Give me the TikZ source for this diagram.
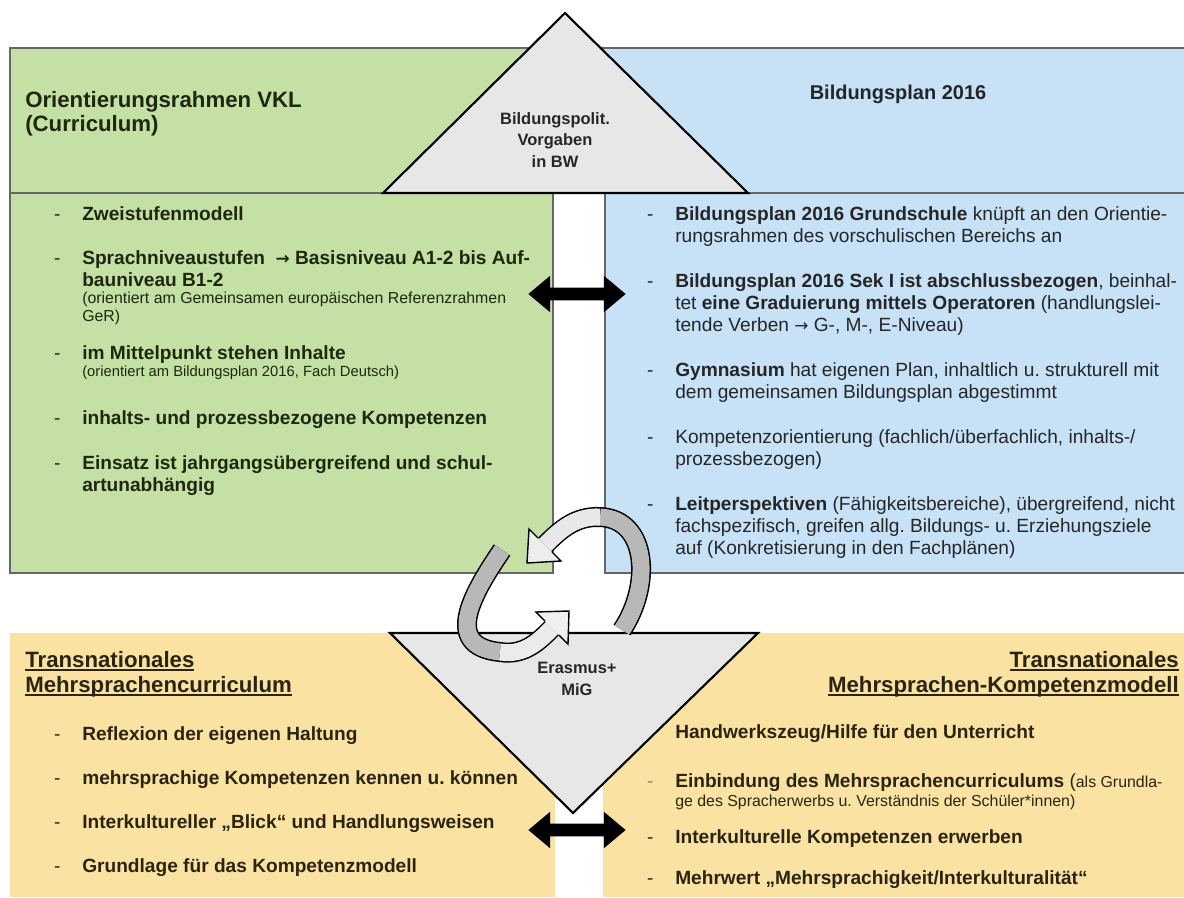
\documentclass[tikz,border=0pt]{standalone}
\usepackage{fontspec}
\setmainfont{Liberation Sans}
\newfontfamily\arrowfont{DejaVu Sans}
\usetikzlibrary{positioning,shapes.arrows}

\definecolor{vklgreen}{HTML}{C5E0A5}
\definecolor{planblue}{HTML}{C7E1F7}
\definecolor{migyellow}{HTML}{FAE3A2}
\definecolor{trigray}{HTML}{E7E7E7}
\definecolor{inkgreen}{HTML}{1C2810}
\definecolor{inkgray}{HTML}{262626}
\definecolor{inkbrown}{HTML}{2A2412}

\newcommand\txtbody{\fontsize{13.6pt}{15.6pt}\selectfont}
\newcommand\txtnote{\fontsize{11.3pt}{12.8pt}\selectfont}
\newcommand\txttitle{\fontsize{15.8pt}{17.5pt}\selectfont\bfseries}
\newcommand\txttri{\fontsize{11.7pt}{15.5pt}\selectfont\bfseries}
% dash in front of a list line
\newcommand\bul{\llap{-\hspace{15.5pt}}}
% arrow sign inside a text line
\newcommand\toarrow{{\arrowfont\fontsize{12pt}{12pt}\selectfont →}}
% heavy underline for the yellow titles
\newcommand\thickul[1]{\setbox0\hbox{#1}\rlap{\rule[-2.6pt]{\wd0}{1.3pt}}\box0}

\tikzset{
  boxline/.style={draw=black!60, line width=1pt},
  tribox/.style={fill=trigray, draw=black, line width=1.5pt},
  itemtext/.style={anchor=north west, align=left, inner sep=0pt, font=\txtbody},
  notetext/.style={anchor=north west, align=left, inner sep=0pt, font=\txtnote},
  titletext/.style={anchor=north west, align=left, inner sep=0pt, font=\txttitle},
  tritext/.style={align=center, inner sep=0pt, font=\txttri, text=inkgray},
  linkarrow/.style={double arrow, fill=black, inner sep=0.15cm, minimum height=2.43cm,
    double arrow head extend=0.3cm, double arrow tip angle=80},
  bandline/.style={line width=0.5cm},
  bandfill/.style={line width=0.425cm},
}

\begin{document}
\frenchspacing
\begin{tikzpicture}[x=0.025cm, y=-0.025cm]
\useasboundingbox (0,0) rectangle (1184,897);

% boxes
\fill[vklgreen] (10,48) rectangle (560,193);
\draw[boxline] (560,48) -- (10,48) -- (10,193) -- (560,193);
\fill[planblue] (570,48) rectangle (1190,193);
\draw[boxline] (1190,48) -- (570,48) -- (570,193) -- (1190,193);
\fill[vklgreen] (10,193) rectangle (553,573);
\draw[boxline] (10,193) rectangle (553,573);
\fill[planblue] (605,193) rectangle (1190,573);
\draw[boxline] (1190,193) -- (605,193) -- (605,573) -- (1190,573);
\fill[migyellow] (10,633) rectangle (555,897);
\fill[migyellow] (603,633) rectangle (1184,897);

% triangles
\draw[tribox] (565,13) -- (748,193) -- (383,193) -- cycle;
\draw[tribox] (390,633) -- (758,633) -- (573,813) -- cycle;
\node[tritext] (bw) at (555,140) {Bildungspolit.\\Vorgaben\\in BW};
\node[tritext] (mig) at (577,679) {Erasmus+\\MiG};

% headers
\node[titletext, text=inkgreen] (vkl) at (25,91) {Orientierungsrahmen VKL\\(Curriculum)};
\node[font=\fontsize{14.2pt}{17pt}\selectfont\bfseries, text=inkgray, inner sep=0pt] (bp) at (898,94) {Bildungsplan 2016};

% green items
\node[itemtext, text=inkgreen] (g1) at (82,206) {\bul\textbf{Zweistufenmodell}};
\node[itemtext, text=inkgreen] (g2) at (82,250) {\bul\textbf{Sprachniveaustufen\ \ {\bfseries\toarrow} Basisniveau A1-2 bis Auf-}\\\textbf{bauniveau B1-2}};
\node[notetext, text=inkgreen] (g2n) at (82,292) {(orientiert am Gemeinsamen europäischen Referenzrahmen\\GeR)};
\node[itemtext, text=inkgreen] (g3) at (82,345) {\bul\textbf{im Mittelpunkt stehen Inhalte}};
\node[notetext, text=inkgreen, font=\fontsize{10.5pt}{12.8pt}\selectfont] (g3n) at (82,366) {(orientiert am Bildungsplan 2016, Fach Deutsch)};
\node[itemtext, text=inkgreen] (g4) at (82,410) {\bul\textbf{inhalts- und prozessbezogene Kompetenzen}};
\node[itemtext, text=inkgreen] (g5) at (82,455) {\bul\textbf{Einsatz ist jahrgangsübergreifend und schul-}\\\textbf{artunabhängig}};

% blue items
\node[itemtext, text=inkgray] (b1) at (675,206) {\bul\textbf{Bildungsplan 2016 Grundschule} knüpft an den Orientie-\\rungsrahmen des vorschulischen Bereichs an};
\node[itemtext, text=inkgray] (b2) at (675,273) {\bul\textbf{Bildungsplan 2016 Sek I ist abschlussbezogen}, beinhal-\\tet \textbf{eine Graduierung mittels Operatoren} (handlungslei-\\tende Verben \toarrow\ G-, M-, E-Niveau)};
\node[itemtext, text=inkgray] (b3) at (675,362) {\bul\textbf{Gymnasium} hat eigenen Plan, inhaltlich u. strukturell mit\\dem gemeinsamen Bildungsplan abgestimmt};
\node[itemtext, text=inkgray] (b4) at (675,429) {\bul Kompetenzorientierung (fachlich/überfachlich, inhalts-/\\prozessbezogen)};
\node[itemtext, text=inkgray] (b5) at (675,496) {\bul\textbf{Leitperspektiven} (Fähigkeitsbereiche), übergreifend, nicht\\fachspezifisch, greifen allg. Bildungs- u. Erziehungsziele\\auf (Konkretisierung in den Fachplänen)};

% yellow left
\node[titletext, text=inkbrown] (mc) at (25,651) {\thickul{Transnationales}\\\thickul{Mehrsprachencurriculum}};
\node[itemtext, text=inkbrown] (y1) at (82,726) {\bul\textbf{Reflexion der eigenen Haltung}};
\node[itemtext, text=inkbrown] (y2) at (82,770) {\bul\textbf{mehrsprachige Kompetenzen kennen u. können}};
\node[itemtext, text=inkbrown] (y3) at (82,814) {\bul\textbf{Interkultureller „Blick“ und Handlungsweisen}};
\node[itemtext, text=inkbrown] (y4) at (82,858) {\bul\textbf{Grundlage für das Kompetenzmodell}};

% yellow right
\node[titletext, anchor=north east, align=right, text=inkbrown] (km) at (1179,651) {\thickul{Transnationales}\\\thickul{Mehrsprachen-Kompetenzmodell}};
\node[itemtext, text=inkbrown] (z1) at (675,724) {\textbf{Handwerkszeug/Hilfe für den Unterricht}};
\node[itemtext, text=inkbrown] (z2) at (675,773) {\textcolor{inkbrown!55}{\bul}\textbf{Einbindung des Mehrsprachencurriculums} ({\txtnote als Grundla-}};
\node[notetext, text=inkbrown] (z2n) at (675,795) {ge des Spracherwerbs u. Verständnis der Schüler*innen)};
\node[itemtext, text=inkbrown] (z3) at (675,829) {\bul\textbf{Interkulturelle Kompetenzen erwerben}};
\node[itemtext, text=inkbrown] (z4) at (675,870) {\bul\textbf{Mehrwert „Mehrsprachigkeit/Interkulturalität“}};

% double arrows
\node[linkarrow] (top link) at (577,294) {};
\node[linkarrow] (low link) at (577,830) {};

% cycle arrow, upper part
\coordinate (ut0) at (622,630);
\coordinate (um) at (600,517);
\coordinate (uh0) at (545,545);
\draw[bandline] (ut0) .. controls (652,585) and (648,519) .. (um) .. controls (575,516) and (560,530) .. (uh0);
\draw[bandfill, draw=black!28] (ut0) .. controls (652,585) and (648,519) .. (um);
\draw[bandfill, draw=black!9] (um) .. controls (575,516) and (560,530) .. (uh0);
\fill[black!7] (552,552) -- (561,561) -- (527,563) -- (529,529) -- (538,538) -- cycle;
\draw[line width=1pt, line join=miter] (552,552) -- (561,561) -- (527,563) -- (529,529) -- (538,538);

% cycle arrow, lower part
\coordinate (lt0) at (502,550);
\coordinate (lm) at (500,652);
\coordinate (lh0) at (552,628);
\draw[bandline] (lt0) .. controls (475,590) and (440,646) .. (lm) .. controls (525,656) and (540,640) .. (lh0);
\draw[bandfill, draw=black!28] (lt0) .. controls (475,590) and (440,646) .. (lm);
\draw[bandfill, draw=black!8] (lm) .. controls (525,656) and (540,640) .. (lh0);
\fill[black!6] (559,635) -- (568,644) -- (569,611) -- (536,612) -- (545,621) -- cycle;
\draw[line width=1pt, line join=miter] (559,635) -- (568,644) -- (569,611) -- (536,612) -- (545,621);
\end{tikzpicture}
\end{document}
